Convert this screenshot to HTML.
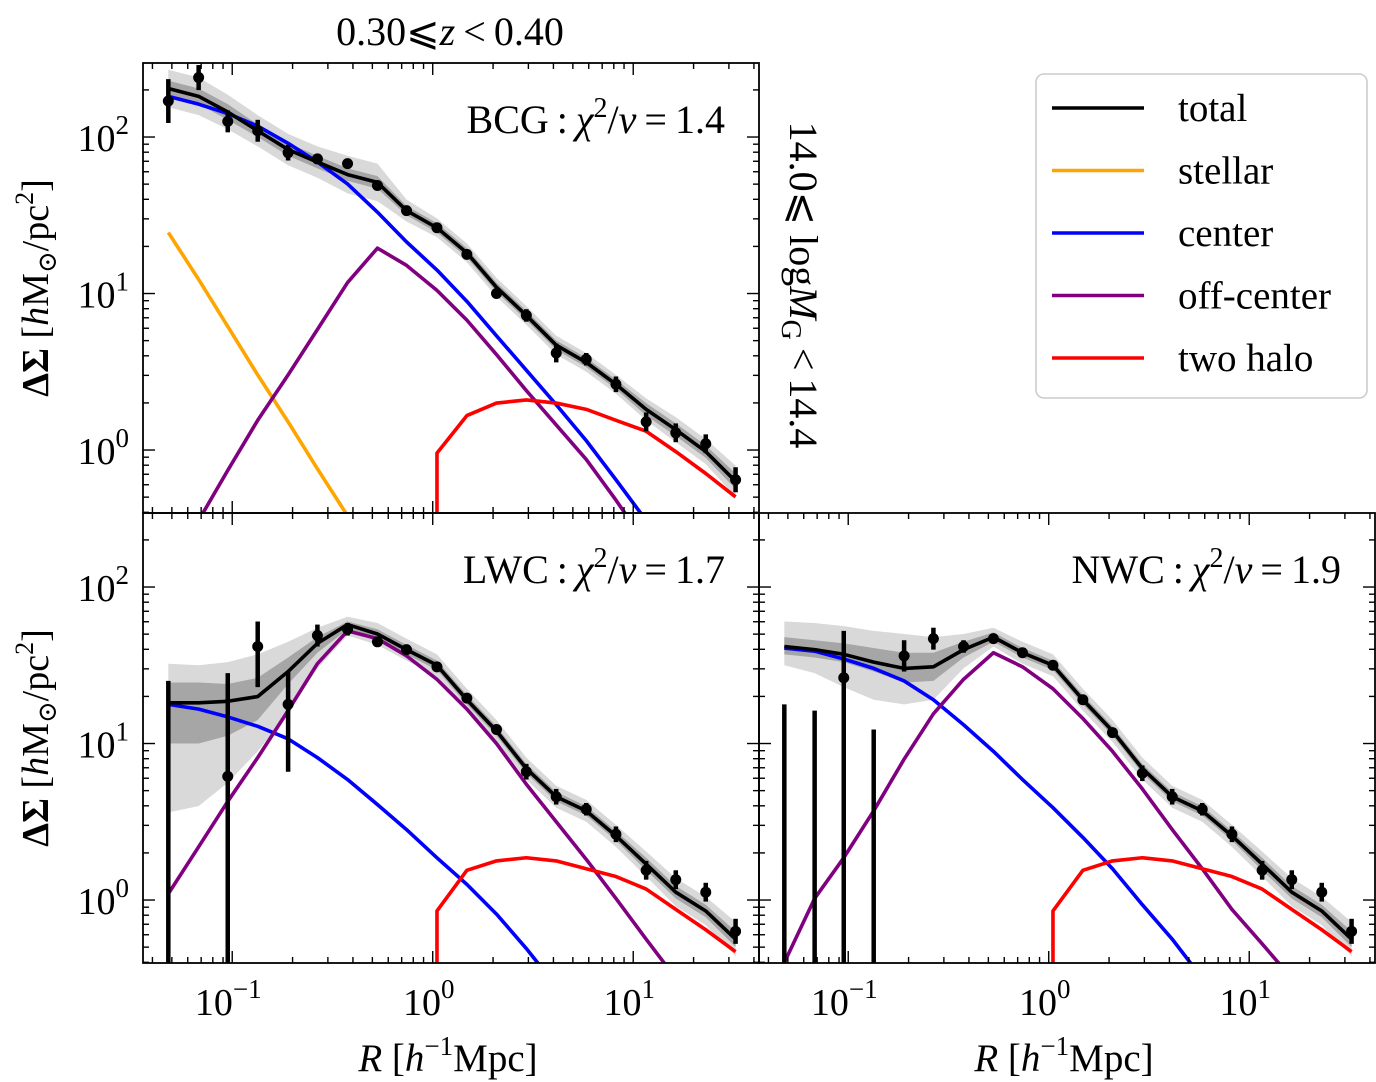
<!DOCTYPE html>
<html><head><meta charset="utf-8"><style>
body{margin:0;background:#fff;}
svg{display:block;font-family:"Liberation Serif","DejaVu Serif",serif;}
</style></head><body>
<svg id="fig" width="1376" height="1082" viewBox="0 0 1376 1082" xmlns="http://www.w3.org/2000/svg"></svg>
<script>
// ---- data (R in h^-1 Mpc, profiles as log10 DeltaSigma) ----
const radii=[0.048,0.068,0.095,0.134,0.19,0.266,0.376,0.53,0.74,1.05,1.48,2.08,2.93,4.13,5.83,8.2,11.6,16.3,23,32.4];
// BCG panel
const bcgPts=[2.23,2.38,2.10,2.04,1.90,1.86,1.83,1.69,1.53,1.42,1.25,1.0,0.86,0.62,0.58,0.42,0.18,0.11,0.04,-0.19];
const bcgErr=[0.14,0.08,0.07,0.07,0.05,0.03,0.03,0.03,0.03,0.03,0.03,0.03,0.04,0.06,0.04,0.05,0.06,0.06,0.06,0.08];
const bcgTotal=[2.31,2.26,2.16,2.04,1.92,1.84,1.76,1.71,1.53,1.42,1.26,1.04,0.86,0.67,0.56,0.42,0.26,0.13,-0.01,-0.20];
const bcgCenter=[2.26,2.21,2.15,2.07,1.96,1.84,1.70,1.52,1.33,1.15,0.95,0.73,0.51,0.29,0.06,-0.19,-0.45,null,null,null];
const bcgStellar=[1.39,1.09,0.79,0.48,0.18,-0.12,-0.42,null,null,null,null,null,null,null,null,null,null,null,null,null];
const bcgOff=[null,-0.45,-0.13,0.19,0.48,0.77,1.07,1.29,1.18,1.02,0.83,0.61,0.38,0.16,-0.06,-0.32,-0.6,null,null,null];
const bcgTwo=[null,null,null,null,null,null,null,null,null,-0.02,0.22,0.30,0.32,0.30,0.26,0.19,0.12,-0.01,-0.15,-0.30];
const bcgDark=[0.05,0.05,0.05,0.04,0.04,0.04,0.04,0.04,0.03,0.03,0.03,0.03,0.03,0.03,0.03,0.03,0.04,0.04,0.04,0.05];
const bcgLight=[0.12,0.12,0.11,0.10,0.10,0.10,0.12,0.12,0.07,0.06,0.06,0.06,0.06,0.06,0.06,0.06,0.07,0.08,0.08,0.10];
// LWC panel
const lwcPts=[null,null,0.79,1.62,1.25,1.69,1.73,1.65,1.60,1.49,1.29,1.09,0.82,0.66,0.58,0.42,0.19,0.13,0.05,-0.20];
const lwcHi=[1.40,null,1.45,1.78,1.46,1.76,1.77,1.68,1.63,1.52,1.32,1.12,0.87,0.71,0.62,0.47,0.25,0.19,0.11,-0.12];
const lwcLo=[-1,null,-1,1.36,0.82,1.62,1.69,1.62,1.57,1.46,1.26,1.06,0.77,0.61,0.54,0.37,0.13,0.07,-0.01,-0.28];
const lwcTotal=[1.26,1.26,1.27,1.30,1.46,1.64,1.76,1.70,1.60,1.50,1.28,1.08,0.84,0.66,0.57,0.41,0.23,0.05,-0.07,-0.25];
const lwcCenter=[1.25,1.22,1.17,1.11,1.03,0.91,0.77,0.61,0.45,0.27,0.10,-0.09,-0.31,-0.55,null,null,null,null,null,null];
const lwcOff=[0.04,0.34,0.63,0.91,1.21,1.51,1.72,1.67,1.56,1.41,1.22,1.00,0.74,0.50,0.26,0.01,-0.25,-0.5,null,null];
const lwcTwo=[null,null,null,null,null,null,null,null,null,-0.07,0.19,0.25,0.27,0.25,0.20,0.15,0.07,-0.06,-0.19,-0.33];
const lwcDarkHi=[1.39,1.39,1.38,1.42,1.55,1.68,1.78,1.73,1.63,1.53,1.31,1.11,0.87,0.69,0.60,0.44,0.27,0.09,-0.03,-0.20];
const lwcDarkLo=[1.00,1.00,1.05,1.15,1.38,1.58,1.73,1.66,1.57,1.47,1.25,1.05,0.81,0.63,0.54,0.38,0.19,0.01,-0.11,-0.30];
const lwcLightHi=[1.51,1.50,1.52,1.57,1.65,1.74,1.81,1.77,1.67,1.57,1.35,1.15,0.91,0.73,0.64,0.48,0.31,0.14,0.02,-0.14];
const lwcLightLo=[0.56,0.60,0.75,0.95,1.20,1.48,1.69,1.63,1.53,1.43,1.21,1.01,0.77,0.59,0.50,0.34,0.15,-0.04,-0.16,-0.36];
// NWC panel
const nwcPts=[null,null,1.42,null,1.56,1.67,1.62,1.67,1.58,1.50,1.28,1.07,0.81,0.66,0.58,0.42,0.19,0.13,0.05,-0.20];
const nwcHi=[1.25,1.21,1.72,1.09,1.66,1.74,1.66,1.70,1.61,1.53,1.31,1.10,0.86,0.71,0.62,0.47,0.25,0.19,0.11,-0.12];
const nwcLo=[-1,-1,-1,-1,1.46,1.60,1.58,1.64,1.55,1.47,1.25,1.04,0.76,0.61,0.54,0.37,0.13,0.07,-0.01,-0.28];
const nwcTotal=[1.62,1.60,1.57,1.52,1.48,1.49,1.60,1.68,1.58,1.50,1.28,1.08,0.84,0.66,0.57,0.41,0.23,0.05,-0.07,-0.25];
const nwcCenter=[1.61,1.59,1.54,1.48,1.40,1.28,1.12,0.95,0.77,0.59,0.40,0.20,-0.03,-0.25,-0.5,null,null,null,null,null];
const nwcOff=[-0.40,0.01,0.27,0.57,0.90,1.19,1.41,1.58,1.49,1.35,1.16,0.95,0.71,0.45,0.20,-0.06,-0.28,-0.5,null,null];
const nwcTwo=[null,null,null,null,null,null,null,null,null,-0.07,0.19,0.25,0.27,0.25,0.20,0.15,0.07,-0.06,-0.19,-0.33];
const nwcDarkHi=[1.68,1.66,1.64,1.61,1.58,1.58,1.65,1.71,1.61,1.53,1.31,1.11,0.87,0.69,0.60,0.44,0.27,0.09,-0.03,-0.20];
const nwcDarkLo=[1.57,1.55,1.52,1.46,1.39,1.40,1.55,1.65,1.55,1.47,1.25,1.05,0.81,0.63,0.54,0.38,0.19,0.01,-0.11,-0.30];
const nwcLightHi=[1.78,1.77,1.75,1.72,1.70,1.68,1.70,1.74,1.65,1.57,1.35,1.15,0.91,0.73,0.64,0.48,0.31,0.14,0.02,-0.14];
const nwcLightLo=[1.50,1.45,1.36,1.28,1.25,1.28,1.48,1.62,1.51,1.43,1.21,1.01,0.77,0.59,0.50,0.34,0.15,-0.04,-0.16,-0.36];
const xTickExp=[-1,0,1];
const yTickExp=[0,1,2];

const NS="http://www.w3.org/2000/svg";
const svg=document.getElementById('fig');
function mk(tag,attrs,parent){const e=document.createElementNS(NS,tag);for(const k in attrs)e.setAttribute(k,attrs[k]);(parent||svg).appendChild(e);return e;}

function panel(px0,py0,name,d){
  const W=616,H=450;
  const X0=px0, Y0=py0;
  const xs=lr=>X0+(lr+1.445)*200.5;
  const ys=ly=>Y0+(2.473-ly)*156.5;
  const g=mk('g',{});
  
  
  const clipId='clip-'+name;
  const cp=mk('clipPath',{id:clipId},g);mk('rect',{x:X0,y:Y0,width:W,height:H},cp);
  const inner=mk('g',{'clip-path':'url(#'+clipId+')'},g);
  const xv=radii.map(r=>xs(Math.log10(r)));
  function band(hi,lo,col,bn){
    let pts=[];for(let i=0;i<hi.length;i++)pts.push(xv[i]+','+ys(hi[i]));
    for(let i=lo.length-1;i>=0;i--)pts.push(xv[i]+','+ys(lo[i]));
    const p=mk('polygon',{points:pts.join(' '),fill:col,stroke:'none'},inner);
    
    
  }
  band(d.lightHi,d.lightLo,'#d9d9d9',name+'-band-outer');
  band(d.darkHi,d.darkLo,'#a6a6a6',name+'-band-inner');
  function line(arr,col,ln,drop){
    let pts=[];let first=true;
    for(let i=0;i<arr.length;i++){if(arr[i]===null)continue;
      if(first&&drop)pts.push(xv[i]+','+(Y0+H+5));
      first=false;pts.push(xv[i]+','+ys(arr[i]));}
    const p=mk('polyline',{points:pts.join(' '),fill:'none',stroke:col,'stroke-width':3.6,'stroke-linejoin':'round'},inner);
    
    
  }
  if(d.stellar)line(d.stellar,'#ffa500',name+'-stellar-line');
  line(d.center,'#0000ff',name+'-center-line');
  line(d.off,'#800080',name+'-offcenter-line');
  line(d.two,'#ff0000',name+'-twohalo-line',true);
  line(d.total,'#000000',name+'-total-line');
  for(let i=0;i<radii.length;i++){
    if(d.hi[i]!==null){
      const b=mk('line',{x1:xv[i],x2:xv[i],y1:ys(d.hi[i]),y2:Math.min(ys(d.lo[i]),Y0+H+5),stroke:'#000','stroke-width':4.5},inner);
      
      
    }
    if(d.pts[i]!==null){
      const c=mk('circle',{cx:xv[i],cy:ys(d.pts[i]),r:5.5,fill:'#000'},inner);
      
      
    }
  }
  const fr=mk('rect',{x:X0,y:Y0,width:W,height:H,fill:'none',stroke:'#000','stroke-width':1.8},g);
  
  
  const tg=mk('g',{stroke:'#000','stroke-width':1.4},g);
  for(let e=-2;e<=2;e++)for(let m=1;m<10;m++){
    const lx=e+Math.log10(m);const x=xs(lx);if(x<X0||x>X0+W)continue;
    const L=m===1?12:6;
    mk('line',{x1:x,x2:x,y1:Y0+H,y2:Y0+H-L},tg);mk('line',{x1:x,x2:x,y1:Y0,y2:Y0+L},tg);
  }
  for(let e=-1;e<=2;e++)for(let m=1;m<10;m++){
    const ly=e+Math.log10(m);const y=ys(ly);if(y<Y0||y>Y0+H)continue;
    const L=m===1?12:6;
    mk('line',{x1:X0,x2:X0+L,y1:y,y2:y},tg);mk('line',{x1:X0+W,x2:X0+W-L,y1:y,y2:y},tg);
  }
  if(d.xlabels){
    xTickExp.forEach(e=>{
      const t=mk('text',{x:xs(e)-4,y:Y0+H+52,'font-size':38,'text-anchor':'middle'},g);
      
      
      t.innerHTML='10<tspan dy="-17" font-size="27">'+(e<0?'\u2212':'')+Math.abs(e)+'</tspan>';
    });
    const xl=mk('text',{x:X0+W/2-3,y:1071,'font-size':39,'text-anchor':'middle'},g);
    
    
    xl.innerHTML='<tspan font-style="italic">R</tspan> [<tspan font-style="italic">h</tspan><tspan dy="-16" font-size="27">\u22121</tspan><tspan dy="16">Mpc]</tspan>';
  }
  if(d.ylabels){
    yTickExp.forEach(e=>{
      const t=mk('text',{x:X0-14,y:ys(e)+14,'font-size':38,'text-anchor':'end'},g);
      
      
      t.innerHTML='10<tspan dy="-17" font-size="27">'+e+'</tspan>';
    });
    const yl=mk('text',{x:0,y:0,'font-size':38,'text-anchor':'middle',transform:'translate(48,'+(Y0+H/2)+') rotate(-90)'},g);
    
    
    yl.innerHTML='<tspan font-weight="bold">\u0394\u03a3</tspan> [<tspan font-style="italic">h</tspan>M<tspan dy="8" font-size="26">\u2299</tspan><tspan dy="-8">/pc</tspan><tspan dy="-15" font-size="26">2</tspan><tspan dy="15">]</tspan>';
  }
  const lab=mk('text',{x:X0+W-34,y:Y0+70,'font-size':40,'text-anchor':'end'},g);
  
  
  lab.innerHTML=d.label+'\u2009:\u2009<tspan font-style="italic">\u03c7</tspan><tspan dy="-16" font-size="28">2</tspan><tspan dy="16">/</tspan><tspan font-style="italic">\u03bd</tspan>\u2009=\u2009'+d.chi;
}
panel(143,63,'bcg',{pts:bcgPts,hi:bcgPts.map((v,i)=>v+bcgErr[i]),lo:bcgPts.map((v,i)=>v-bcgErr[i]),total:bcgTotal,center:bcgCenter,stellar:bcgStellar,off:bcgOff,two:bcgTwo,
  darkHi:bcgTotal.map((v,i)=>v+bcgDark[i]),darkLo:bcgTotal.map((v,i)=>v-bcgDark[i]),lightHi:bcgTotal.map((v,i)=>v+bcgLight[i]),lightLo:bcgTotal.map((v,i)=>v-bcgLight[i]),
  ylabels:true,label:'BCG',chi:'1.4'});
panel(143,513,'lwc',{pts:lwcPts,hi:lwcHi,lo:lwcLo,total:lwcTotal,center:lwcCenter,off:lwcOff,two:lwcTwo,darkHi:lwcDarkHi,darkLo:lwcDarkLo,lightHi:lwcLightHi,lightLo:lwcLightLo,
  ylabels:true,xlabels:true,label:'LWC',chi:'1.7'});
panel(759,513,'nwc',{pts:nwcPts,hi:nwcHi,lo:nwcLo,total:nwcTotal,center:nwcCenter,off:nwcOff,two:nwcTwo,darkHi:nwcDarkHi,darkLo:nwcDarkLo,lightHi:nwcLightHi,lightLo:nwcLightLo,
  xlabels:true,label:'NWC',chi:'1.9'});

const tt=mk('text',{x:450,y:45,'font-size':40,'text-anchor':'middle'});


tt.innerHTML='0.30\u2a7d<tspan font-style="italic">z</tspan>\u2009&lt;\u20090.40';
const mt=mk('text',{x:0,y:0,'font-size':40,'text-anchor':'middle',transform:'translate(790,285) rotate(90)'});


mt.innerHTML='14.0\u2a7d log<tspan font-style="italic">M</tspan><tspan dy="8" font-size="28">G</tspan><tspan dy="-8">\u2009&lt;\u200914.4</tspan>';

const lg=mk('g',{});


mk('rect',{x:1036,y:74,width:331,height:324,rx:8,fill:'#fff',stroke:'#cccccc','stroke-width':1.6},lg);
const legNames=['total','stellar','center','off-center','two halo'];
const legCols=['#000000','#ffa500','#0000ff','#800080','#ff0000'];
legNames.forEach((n,i)=>{
  const y=108+i*62.5;
  const ln=mk('line',{x1:1052,x2:1144,y1:y,y2:y,stroke:legCols[i],'stroke-width':3.6},lg);
  
  
  const t=mk('text',{x:1178,y:y+13,'font-size':39},lg);
  
  
  t.textContent=n;
});
</script>
</body></html>
